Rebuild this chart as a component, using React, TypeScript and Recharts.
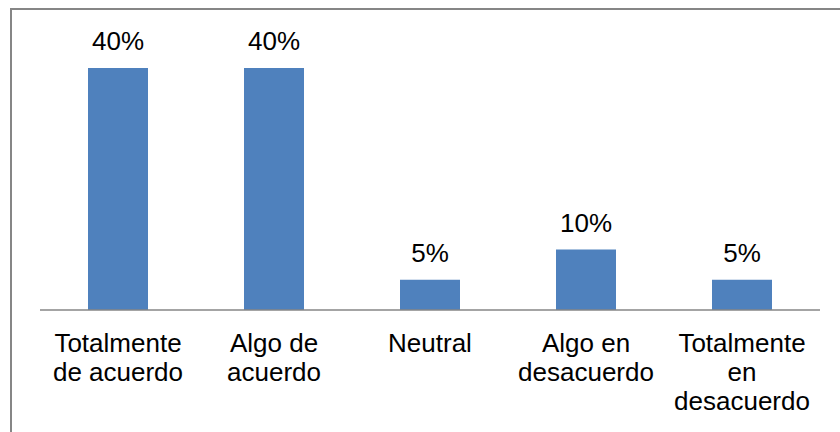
import React from "react";
import { BarChart, Bar, XAxis, YAxis, LabelList } from "recharts";

const categories = [
  "Totalmente de acuerdo",
  "Algo de acuerdo",
  "Neutral",
  "Algo en desacuerdo",
  "Totalmente en desacuerdo",
];
const tickLines = [
  ["Totalmente", "de acuerdo"],
  ["Algo de", "acuerdo"],
  ["Neutral"],
  ["Algo en", "desacuerdo"],
  ["Totalmente", "en", "desacuerdo"],
];
const values = [40, 40, 5, 10, 5];
const valueLabels = ["40%", "40%", "5%", "10%", "5%"];

const data = categories.map((c, i) => ({
  name: c,
  value: values[i],
  label: valueLabels[i],
  lines: tickLines[i],
}));

const FONT = "'Liberation Sans', Arial, sans-serif";

const CustomTick = (props: any) => {
  const { x, y, index } = props;
  const lines = tickLines[index] || [String(props.payload?.value ?? "")];
  return (
    <text
      x={x}
      y={y + 42}
      textAnchor="middle"
      fontFamily={FONT}
      fontSize={26}
      fill="#000"
    >
      {lines.map((l: string, i: number) => (
        <tspan key={i} x={x} dy={i === 0 ? 0 : 29}>
          {l}
        </tspan>
      ))}
    </text>
  );
};

export default function App() {
  return (
    <div
      style={{
        position: "absolute",
        left: 0,
        top: 0,
        width: 840,
        height: 432,
        overflow: "hidden",
        background: "#fff",
      }}
    >
      <div
        style={{
          position: "absolute",
          left: 10,
          top: 8,
          width: 900,
          height: 500,
          borderLeft: "2px solid #868686",
          borderTop: "2px solid #868686",
          boxSizing: "border-box",
        }}
      />
      <div style={{ position: "absolute", left: 0, top: 0 }}>
        <BarChart
          width={840}
          height={432}
          data={data}
          margin={{ top: 68, right: 20, bottom: 22, left: 40 }}
          barSize={60}
        >
          <YAxis hide domain={[0, 40]} />
          <XAxis
            dataKey="name"
            height={100}
            interval={0}
            tickSize={0}
            tickMargin={0}
            tickLine={false}
            axisLine={{ stroke: "#868686", strokeWidth: 1.5 }}
            tick={<CustomTick />}
          />
          <Bar dataKey="value" fill="#4F81BD" isAnimationActive={false}>
            <LabelList
              dataKey="label"
              position="top"
              offset={18}
              fontFamily={FONT}
              fontSize={26}
              fill="#000"
            />
          </Bar>
        </BarChart>
      </div>
    </div>
  );
}
